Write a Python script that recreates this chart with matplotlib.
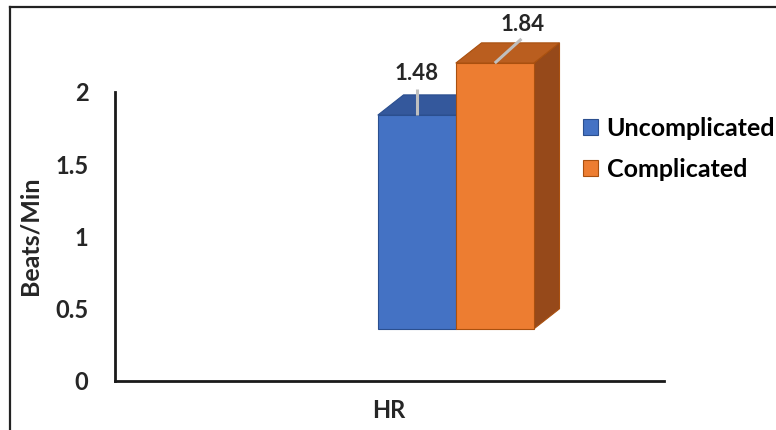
import numpy as np
import matplotlib.pyplot as plt
from matplotlib.patches import Polygon, Patch
from matplotlib.lines import Line2D

plt.rcParams['font.family'] = ['Lato', 'DejaVu Sans']

# data
category = 'HR'
series = ['Uncomplicated', 'Complicated']
values = [1.48, 1.84]
y_ticks = [0, 0.5, 1, 1.5, 2]
y_label = 'Beats/Min'

# colours: front, top, side
front_colors = ['#4472C4', '#ED7D31']
top_colors = ['#34589C', '#BA5E1F']
side_colors = ['#2D4F8E', '#96491A']
edge_colors = ['#2B4F8F', '#A9500F']

# 3d look
floor = 0.36        # bars sit on a perspective floor
dx, dy = 0.33, 0.14  # depth offset
bar_w = 1.0
label_offsets = [(0.0, 0.29), (0.36, 0.27)]  # label position relative to top centre

fig = plt.figure(figsize=(7.76, 4.30), dpi=100)
ax = fig.add_axes([115 / 776, 49 / 430, 549 / 776, 289 / 430])

for i, (name, v) in enumerate(zip(series, values)):
    x0 = -bar_w + i * bar_w
    x1 = x0 + bar_w
    y0 = floor
    y1 = floor + v
    z = 2 + i * 3
    # side face
    side = Polygon([(x1, y0), (x1 + dx, y0 + dy), (x1 + dx, y1 + dy), (x1, y1)],
                   closed=True, facecolor=side_colors[i], edgecolor=edge_colors[i],
                   lw=0.8, zorder=z, clip_on=False)
    # top face
    top = Polygon([(x0, y1), (x0 + dx, y1 + dy), (x1 + dx, y1 + dy), (x1, y1)],
                  closed=True, facecolor=top_colors[i], edgecolor=edge_colors[i],
                  lw=0.8, zorder=z, clip_on=False)
    ax.add_patch(side)
    ax.add_patch(top)
    ax.bar(x0, v, width=bar_w, bottom=y0, align='edge', color=front_colors[i],
           edgecolor=edge_colors[i], lw=0.8, zorder=z + 1, clip_on=False)

    # leader line and value label
    cx = (x0 + x1) / 2
    ox, oy = label_offsets[i]
    ax.plot([cx, cx + ox * 0.95], [y1, y1 + oy * 0.62], color='#BFBFBF', lw=2.2,
            zorder=10, clip_on=False, solid_capstyle='butt')
    ax.text(cx + ox, y1 + oy, f'{v:.2f}', ha='center', va='center',
            fontsize=16, fontweight='bold', color='#262626', zorder=11, clip_on=False)

ax.set_xlim(-4.37, 2.67)
ax.set_ylim(0, 2)
ax.set_yticks(y_ticks)
ax.set_yticklabels([f'{t:g}' for t in y_ticks])
ax.set_xticks([])
ax.tick_params(axis='y', length=0, pad=19, labelsize=17, labelcolor='#262626')
for lab in ax.get_yticklabels():
    lab.set_fontweight('bold')
for s in ['top', 'right']:
    ax.spines[s].set_visible(False)
for s in ['left', 'bottom']:
    ax.spines[s].set_linewidth(2)
    ax.spines[s].set_color('#1a1a1a')

fig.text(30 / 776, 1 - 236 / 430, y_label, rotation=90, ha='center', va='center',
         fontsize=18, fontweight='bold', color='#262626')
fig.text(389 / 776, 1 - 410 / 430, category, ha='center', va='center',
         fontsize=17, fontweight='bold', color='#262626')

handles = [Patch(facecolor=front_colors[i], edgecolor=edge_colors[i], lw=0.8)
           for i in range(len(series))]
fig.legend(handles, series, loc='upper left', bbox_to_anchor=(583 / 776, 1 - 117 / 430),
           frameon=False, prop={'weight': 'bold', 'size': 18},
           handlelength=0.6, handleheight=0.6, handletextpad=0.35, labelspacing=0.72,
           borderaxespad=0, borderpad=0)

# outer frame: top and left edges only
fig.add_artist(Line2D([10 / 776, 1], [1 - 6.5 / 430, 1 - 6.5 / 430], color='#222222', lw=1.6,
                      transform=fig.transFigure))
fig.add_artist(Line2D([10 / 776, 10 / 776], [0, 1 - 6.5 / 430], color='#222222', lw=1.6,
                      transform=fig.transFigure))

fig.savefig('out.png', dpi=100, facecolor='white')
